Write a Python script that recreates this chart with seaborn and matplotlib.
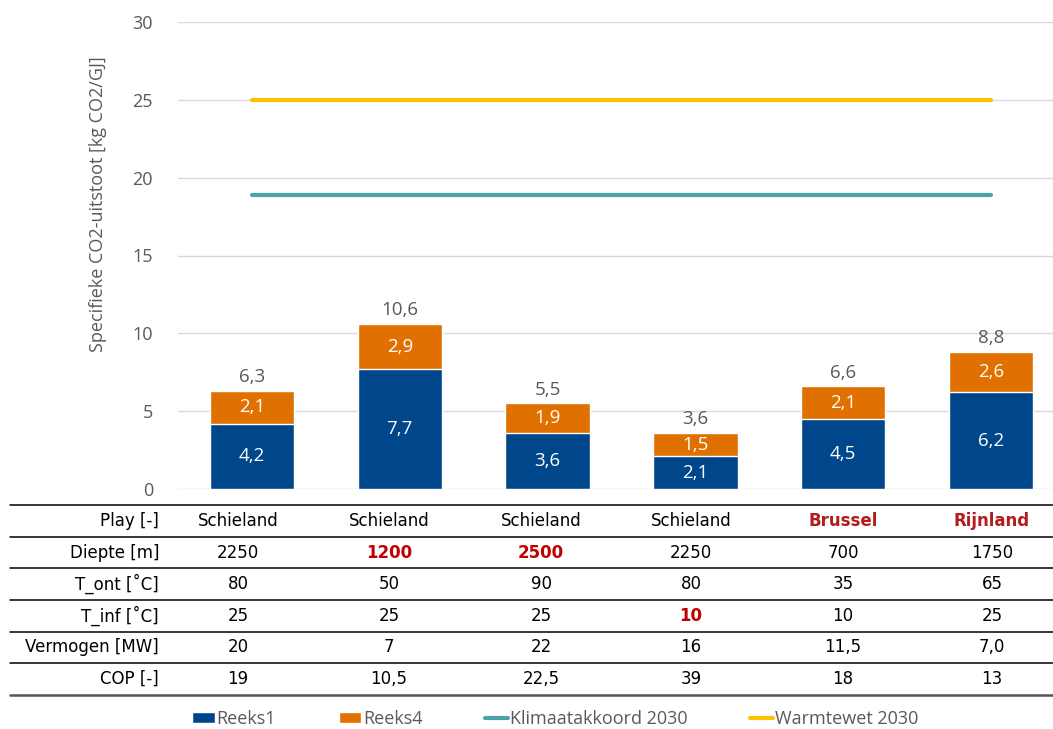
import matplotlib
matplotlib.use("Agg")
import matplotlib.pyplot as plt
from matplotlib.lines import Line2D
from matplotlib.patches import Patch
import seaborn as sns
import pandas as pd
import numpy as np

# ---- data ----
categories = ["1", "2", "3", "4", "5", "6"]
reeks1 = [4.2, 7.7, 3.6, 2.1, 4.5, 6.2]
reeks4 = [2.1, 2.9, 1.9, 1.5, 2.1, 2.6]
klimaat = [18.9] * 6
warmtewet = [25.0] * 6

row_labels = ["Play [-]", "Diepte [m]", "T_ont [\u02daC]", "T_inf [\u02daC]", "Vermogen [MW]", "COP [-]"]
play = ["Schieland", "Schieland", "Schieland", "Schieland", "Brussel", "Rijnland"]
diepte = ["2250", "1200", "2500", "2250", "700", "1750"]
t_ont = ["80", "50", "90", "80", "35", "65"]
t_inf = ["25", "25", "25", "10", "10", "25"]
vermogen = ["20", "7", "22", "16", "11,5", "7,0"]
cop = ["19", "10,5", "22,5", "39", "18", "13"]
table_rows = [play, diepte, t_ont, t_inf, vermogen, cop]
# highlighted cells (row, col)
highlight = {(0, 4), (0, 5), (1, 1), (1, 2), (3, 3)}

C_BLUE = "#00468B"
C_ORANGE = "#E07000"
C_TEAL = "#4AA3A6"
C_YELLOW = "#FFC000"
C_RED = "#C00000"
C_DRED = "#B21C1C"
C_GRAY = "#595959"

sns.set_theme(style="white")
plt.rcParams['font.family'] = ['Open Sans', 'DejaVu Sans']

W, H = 1053, 729
fig = plt.figure(figsize=(W / 100, H / 100), dpi=100)
ax_left, ax_right, ax_top, ax_bot = 178, 1053, 22, 489
ax = fig.add_axes([ax_left / W, 1 - ax_bot / H, (ax_right - ax_left) / W, (ax_bot - ax_top) / H])

df = pd.DataFrame({"cat": categories, "r1": reeks1, "r4": reeks4})
df["total"] = df["r1"] + df["r4"]

sns.barplot(data=df, x="cat", y="total", color=C_ORANGE, width=0.57, ax=ax,
            saturation=1, zorder=3, label="Reeks4")
sns.barplot(data=df, x="cat", y="r1", color=C_BLUE, width=0.57, ax=ax,
            saturation=1, zorder=3, label="Reeks1")
xs = np.arange(len(categories))
sns.lineplot(x=xs, y=klimaat, color=C_TEAL, lw=3, ax=ax, zorder=4)
sns.lineplot(x=xs, y=warmtewet, color=C_YELLOW, lw=3, ax=ax, zorder=4)

def fmt(v):
    return f"{v:.1f}".replace(".", ",")

LBL = 13.5
for i in range(len(categories)):
    ax.text(i, reeks1[i] / 2, fmt(reeks1[i]), ha="center", va="center", color="white", fontsize=LBL, zorder=5)
    ax.text(i, reeks1[i] + reeks4[i] / 2, fmt(reeks4[i]), ha="center", va="center", color="white", fontsize=LBL, zorder=5)
    ax.text(i, reeks1[i] + reeks4[i] + 0.3, fmt(reeks1[i] + reeks4[i]), ha="center", va="bottom", color=C_GRAY, fontsize=LBL, zorder=5)

# x range so that category spacing matches
sp = 147.8
ax.set_xlim(-(252 - ax_left) / sp, 5 + (ax_right - 991) / sp)
ax.set_ylim(0, 30)
ax.set_yticks([0, 5, 10, 15, 20, 25, 30])
ax.set_yticklabels(["0", "5", "10", "15", "20", "25", "30"], color=C_GRAY, fontsize=13)
ax.yaxis.grid(True, color="#D9D9D9", lw=1)
ax.set_axisbelow(True)
ax.tick_params(axis="y", length=0, pad=18)
ax.set_xticks([])
ax.set_xlabel("")
ax.set_ylabel("Specifieke CO2-uitstoot [kg CO2/GJ]", color=C_GRAY, fontsize=13)
ax.yaxis.set_label_coords(-0.081, 0.61)
for s in ax.spines.values():
    s.set_visible(False)
if ax.get_legend():
    ax.get_legend().remove()

# ---- table ----
col_centers_px = [238, 389, 541, 691, 843, 992]
line_ys = [505, 537, 568, 600, 632, 663, 695]
for k, yy in enumerate(line_ys):
    last = k == len(line_ys) - 1
    fig.add_artist(Line2D([10 / W, 1.0], [1 - yy / H] * 2, color=("#555555" if last else "black"),
                          lw=(1.8 if last else 1.1), transform=fig.transFigure))
for r, (lab, vals) in enumerate(zip(row_labels, table_rows)):
    yc = 1 - (line_ys[r] + line_ys[r + 1]) / 2 / H
    fig.text(159 / W, yc, lab, ha="right", va="center", fontsize=12, family="DejaVu Sans", color="black")
    for c, v in enumerate(vals):
        hl = (r, c) in highlight
        colr = (C_DRED if r == 0 else C_RED) if hl else "black"
        fig.text(col_centers_px[c] / W, yc, v, ha="center", va="center", fontsize=12,
                 family="DejaVu Sans", color=colr, fontweight=("bold" if hl else "normal"))

# ---- legend ----
handles = [Patch(facecolor=C_BLUE), Patch(facecolor=C_ORANGE),
           Line2D([0], [0], color=C_TEAL, lw=3), Line2D([0], [0], color=C_YELLOW, lw=3)]
labels = ["Reeks1", "Reeks4", "Klimaatakkoord 2030", "Warmtewet 2030"]
leg = fig.legend(handles, labels, loc="center", bbox_to_anchor=(555 / W, 1 - 719 / H), ncol=4,
                 frameon=False, fontsize=13, handlelength=1.25, handleheight=0.55, handletextpad=0.1,
                 columnspacing=3.48, labelcolor=C_GRAY)

fig.savefig("out.png", dpi=100, facecolor="white")
